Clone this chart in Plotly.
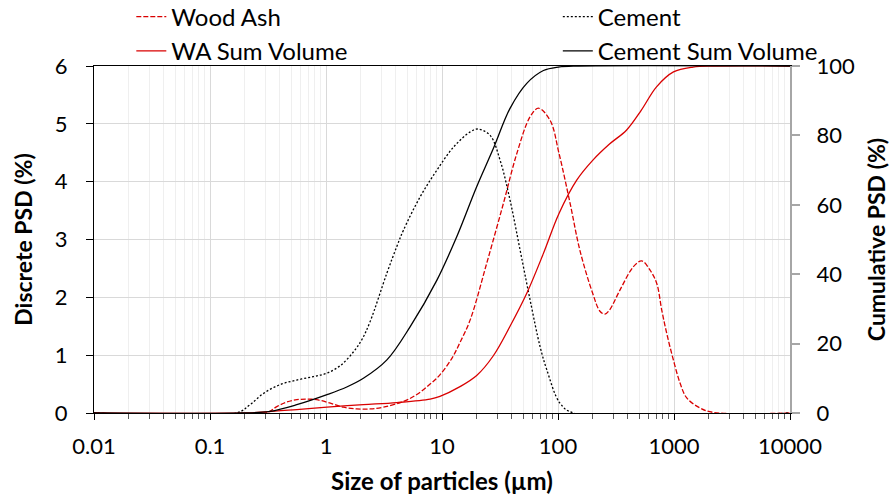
import plotly.graph_objects as go

# ---------------- data ----------------
# Wood Ash - discrete PSD (%)
wa_size = [0.01, 0.30, 0.38, 0.46, 0.56, 0.68, 0.83, 1.09, 1.41, 1.84, 2.4, 3.1,
           4.65, 6.07, 7.9, 9.6, 12.2, 14.3, 17.5, 24.3, 33.9, 44.2, 57.4, 67.8, 85.5,
           102, 127, 155, 199, 230, 254, 278, 343, 447, 527, 622, 710, 784, 865,
           987, 1127, 1288, 1676, 2185, 10000]
wa_psd = [0, 0, 0.115, 0.19, 0.23, 0.24, 0.23, 0.17, 0.10, 0.07, 0.07, 0.10,
          0.20, 0.32, 0.50, 0.66, 0.95, 1.22, 1.61, 2.59, 3.63, 4.49, 5.12, 5.27, 5.06,
          4.49, 3.63, 2.80, 2.07, 1.76, 1.71, 1.78, 2.13, 2.53, 2.63, 2.47, 2.24, 1.78, 1.38,
          0.92, 0.52, 0.26, 0.086, 0.01, 0]

# Wood Ash - cumulative volume (%)
wa_cum_size = [0.01, 0.2, 0.3, 0.56, 1.02, 2.1, 4.08, 7.9, 9.6, 14.3, 19.9, 27.7,
               38.6, 53.8, 74.9, 102, 145, 199, 278, 389, 523, 707, 990, 1460,
               2200, 10000]
wa_cum = [0, 0, 0.3, 1.0, 1.7, 2.4, 3.0, 4.0, 4.8, 7.6, 10.8, 16.5,
          25.0, 34.5, 46.0, 57.5, 67.1, 72.8, 77.5, 81.5, 87.3, 94.0, 98.3, 99.7,
          100, 100]

# Cement - discrete PSD (%)
cem_size = [0.01, 0.17, 0.22, 0.29, 0.40, 0.56, 0.78, 1.02, 1.33, 1.73, 2.04, 2.40,
            3.35, 4.08, 4.65, 6.49, 9.04, 12.6, 17.5, 20.5, 26, 31.7, 38.6, 47.1,
            57.4, 70, 80, 104, 136, 10000]
cem_psd = [0, 0, 0.14, 0.34, 0.49, 0.57, 0.63, 0.69, 0.82, 1.06, 1.27, 1.58,
           2.42, 2.88, 3.16, 3.74, 4.20, 4.60, 4.86, 4.91, 4.80, 4.37, 3.68, 2.82,
           1.96, 1.15, 0.75, 0.17, 0, 0]

# Cement - cumulative volume (%)
cem_cum_size = [0.01, 0.19, 0.33, 0.56, 1.02, 1.51, 2.1, 3.35, 5.32, 9.04, 13.4,
                19.9, 27.7, 38.6, 53.8, 74.9, 100.7, 150, 10000]
cem_cum = [0, 0, 0.5, 2.4, 5.3, 7.5, 10, 15.3, 24.9, 38.3, 50.8,
           65.2, 76.2, 87.8, 95.0, 98.7, 99.7, 100, 100]

x_tickvals = [0.01, 0.1, 1, 10, 100, 1000, 10000]
x_ticktext = ["0.01", "0.1", "1", "10", "100", "1000", "10000"]
x_minor = [m * 10.0 ** e for e in range(-2, 4) for m in range(2, 10)]

RED = "#d90000"
FONT = "Lato"
SMOOTH = 1.0

fig = go.Figure()
fig.add_trace(go.Scatter(
    x=wa_size, y=wa_psd, name="Wood Ash", mode="lines", legend="legend",
    line=dict(color=RED, width=1.3, dash="5px,2px", shape="spline", smoothing=SMOOTH)))
fig.add_trace(go.Scatter(
    x=wa_cum_size, y=wa_cum, name="WA Sum Volume", mode="lines", yaxis="y2", legend="legend",
    line=dict(color=RED, width=1.3, shape="spline", smoothing=SMOOTH)))
fig.add_trace(go.Scatter(
    x=cem_size, y=cem_psd, name="Cement", mode="lines", legend="legend2",
    line=dict(color="black", width=1.3, dash="2px,2px", shape="spline", smoothing=SMOOTH)))
fig.add_trace(go.Scatter(
    x=cem_cum_size, y=cem_cum, name="Cement Sum Volume", mode="lines", yaxis="y2", legend="legend2",
    line=dict(color="black", width=1.3, shape="spline", smoothing=SMOOTH)))

tickfont = dict(family=FONT, size=22, color="black")
xtitlefont = dict(family=FONT, size=24, color="black", weight="bold")
ytitlefont = dict(family=FONT, size=23, color="black", weight="bold")

fig.update_layout(
    width=891, height=499,
    margin=dict(l=94, r=101, t=66, b=86, autoexpand=False),
    paper_bgcolor="white", plot_bgcolor="white",
    xaxis=dict(
        type="log", range=[-2, 4],
        tickmode="array", tickvals=x_tickvals, ticktext=x_ticktext,
        ticks="outside", ticklen=6, tickcolor="black", tickwidth=1,
        showline=True, linecolor="black", linewidth=1, mirror=True,
        showgrid=True, gridcolor="#d9d9d9", gridwidth=1, zeroline=False,
        minor=dict(tickmode="array", tickvals=x_minor, ticks="outside", ticklen=5,
                   tickcolor="#595959", showgrid=True, gridcolor="#efefef", gridwidth=1),
        tickfont=tickfont, ticklabelstandoff=8,
        title=dict(text="Size of particles (µm)", font=xtitlefont, standoff=14),
    ),
    yaxis=dict(
        range=[0, 6], dtick=1, tick0=0,
        ticks="outside", ticklen=7, tickcolor="black",
        showline=True, linecolor="black", linewidth=1,
        showgrid=True, gridcolor="#d9d9d9", gridwidth=1, zeroline=False,
        tickfont=tickfont, ticklabelstandoff=14,
        title=dict(text="Discrete PSD (%)", font=ytitlefont, standoff=15),
    ),
    yaxis2=dict(
        overlaying="y", side="right", range=[0, 100], dtick=20, tick0=0,
        ticks="outside", ticklen=8, tickcolor="#a6a6a6", tickwidth=1.5,
        showline=True, linecolor="#a6a6a6", linewidth=2,
        showgrid=False, zeroline=False,
        tickfont=tickfont, ticklabelstandoff=12,
        title=dict(text="Cumulative PSD (%)", font=ytitlefont, standoff=15),
    ),
    legend=dict(x=0.0536, y=1.206, xanchor="left", yanchor="top",
                font=dict(family=FONT, size=24, color="black"),
                bgcolor="rgba(0,0,0,0)", tracegroupgap=0),
    legend2=dict(x=0.6664, y=1.206, xanchor="left", yanchor="top",
                 font=dict(family=FONT, size=24, color="black"),
                 bgcolor="rgba(0,0,0,0)", tracegroupgap=0),
)

fig.write_html("out.html")
